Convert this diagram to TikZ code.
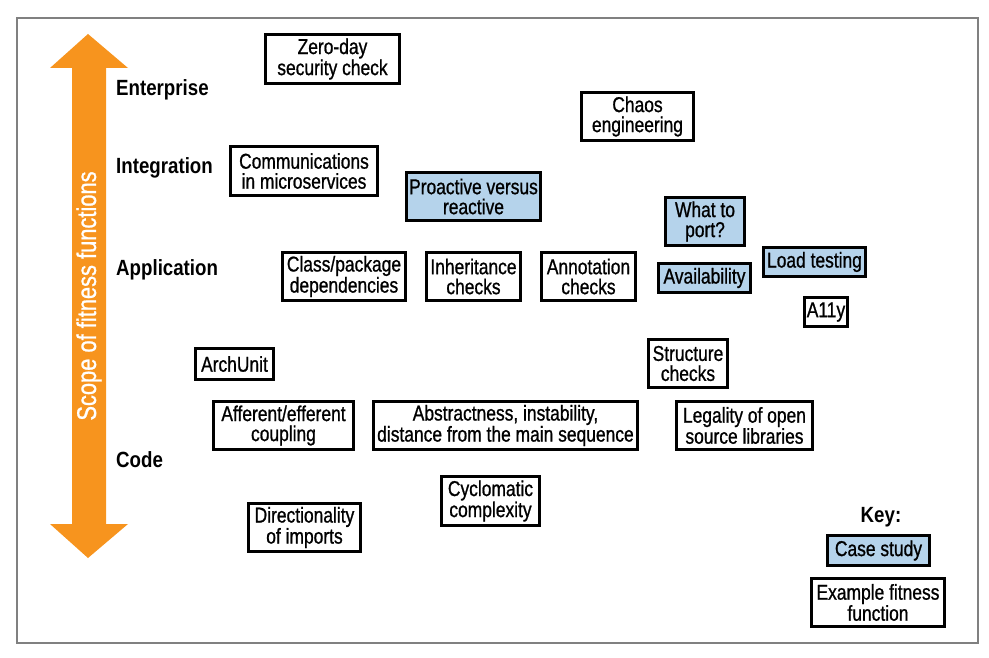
\documentclass[tikz,border=0pt]{standalone}
\usepackage{fontspec}
\setmainfont[FakeStretch=0.85]{Liberation Sans}
\newfontfamily\boxfont[FakeStretch=0.81, FakeBold=0.9]{Liberation Sans}
\definecolor{scopeorange}{HTML}{F7941E}
\definecolor{casefill}{HTML}{B5D3EB}
\definecolor{framegray}{HTML}{808080}
\begin{document}
\begin{tikzpicture}[x=1pt,y=-1pt,
  fitness/.style={draw, line width=3pt, inner sep=0pt, align=center,
    font=\boxfont\fontsize{21.5}{20}\selectfont},
  casebox/.style={fitness, fill=casefill},
  level/.style={anchor=west, inner sep=0pt, font=\fontsize{22}{22}\selectfont\bfseries}]
\useasboundingbox (0,0) rectangle (989,658);
\draw[framegray, line width=1.5pt] (17,18) rectangle (978,643);
% scope arrow
\fill[scopeorange] (88,34) -- (128,68) -- (106,68) -- (106,524) -- (128,524)
  -- (88,558) -- (50,524) -- (72,524) -- (72,68) -- (50,68) -- cycle;
\node[rotate=90, text=white, font=\boxfont\fontsize{27}{27}\selectfont] (scope) at (89,296) {Scope of fitness functions};
% levels
\node[level] (enterprise) at (116,90) {Enterprise};
\node[level] (integration) at (116,168) {Integration};
\node[level] (application) at (116,270) {Application};
\node[level] (code) at (116,460) {Code};
% fitness functions
\node[fitness, minimum width=134, minimum height=49] (zeroday) at (332.5,59) {Zero-day\\security check};
\node[fitness, minimum width=112, minimum height=48] (chaos) at (637.5,116.5) {Chaos\\engineering};
\node[fitness, minimum width=147, minimum height=49] (comms) at (304,171) {Communications\\in microservices};
\node[casebox, minimum width=134, minimum height=48] (proactive) at (473.5,196.5) {Proactive versus\\reactive};
\node[casebox, minimum width=79, minimum height=48] (whatport) at (705,221.5) {What to\\port?};
\node[fitness, minimum width=123, minimum height=48] (classpkg) at (344,276.5) {Class/package\\dependencies};
\node[fitness, minimum width=94, minimum height=48] (inherit) at (473.5,276.5) {Inheritance\\checks};
\node[fitness, minimum width=94, minimum height=48] (annot) at (588.5,276.5) {Annotation\\checks};
\node[casebox, minimum width=92, minimum height=29] (avail) at (704.5,278) {Availability};
\node[casebox, minimum width=102, minimum height=29] (load) at (814.5,262) {Load testing};
\node[fitness, minimum width=43, minimum height=29] (a11y) at (826,312) {A11y};
\node[fitness, minimum width=78, minimum height=31] (archunit) at (234.5,364) {ArchUnit};
\node[fitness, minimum width=79, minimum height=48] (structure) at (688,363.5) {Structure\\checks};
\node[fitness, minimum width=140, minimum height=48] (afferent) at (283.5,425.5) {Afferent/efferent\\coupling};
\node[fitness, minimum width=264, minimum height=48] (abstract) at (505.5,425.5) {Abstractness, instability,\\distance from the main sequence};
\node[fitness, minimum width=136, minimum height=48] (legality) at (744.5,425.5) {Legality of open\\source libraries};
\node[fitness, minimum width=98, minimum height=49] (cyclo) at (490.5,501) {Cyclomatic\\complexity};
\node[fitness, minimum width=112, minimum height=48] (direct) at (304.5,527.5) {Directionality\\of imports};
% key
\node[font=\fontsize{22}{22}\selectfont\bfseries] (key) at (881,517) {Key:};
\node[casebox, minimum width=102, minimum height=30] (casestudy) at (878.5,550.5) {Case study};
\node[fitness, minimum width=133, minimum height=48] (example) at (878,602.5) {Example fitness\\function};
\end{tikzpicture}
\end{document}
